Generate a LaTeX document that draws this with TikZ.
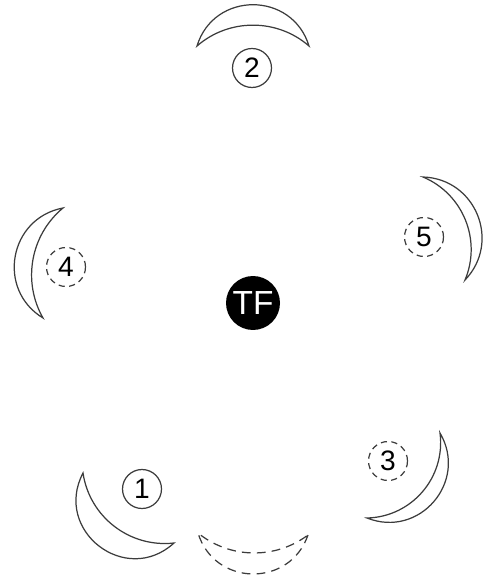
\documentclass[tikz,border=0pt]{standalone}
\usepackage{fontspec}
\setmainfont{Liberation Sans}
\definecolor{lunegray}{RGB}{60,60,60}

% crescent: style, tip A, tip B, outer bend, inner bend (degrees)
\newcommand{\lune}[5]{%
  \draw[#1] #2 to[outarc=#4] #3 to[inarc=#5] #2 -- cycle;}

\begin{document}
\begin{tikzpicture}[x=0.02cm, y=-0.02cm,
    % bends that follow a circular arc
    outarc/.code={\pgfmathsetmacro\lunelsn{(2/3)*tan(#1/2)/(sin(#1)*0.3915)}%
      \edef\lunenext{\noexpand\pgfkeysalso{bend left=#1, looseness=\lunelsn}}\lunenext},
    inarc/.code={\pgfmathsetmacro\lunelsn{(2/3)*tan(#1/2)/(sin(#1)*0.3915)}%
      \edef\lunenext{\noexpand\pgfkeysalso{bend right=#1, looseness=\lunelsn}}\lunenext},
    lune/.style={draw=lunegray, line width=0.7pt, fill=white, line join=miter},
    ghost/.style={lune, dash pattern=on 5pt off 3.5pt},
    num/.style={circle, draw=lunegray, line width=0.7pt, minimum size=0.78cm,
                inner sep=0pt, font=\fontsize{16}{16}\selectfont},
    numdash/.style={num, dash pattern=on 3.5pt off 2.5pt},
    core/.style={circle, fill=black, text=white, minimum size=1.08cm,
                 inner sep=0pt, font=\fontsize{19}{19}\selectfont},
  ]
  \useasboundingbox (0,0) rectangle (484,580);

  % crescents
  \lune{lune}{(197,46)}{(309,46)}{73}{41}
  \lune{lune}{(43,318)}{(63,208)}{69}{40}
  \lune{lune}{(423,177)}{(465,280)}{66}{45}
  \lune{lune}{(174,543)}{(83,473)}{80}{44}
  \lune{lune}{(440,433)}{(367,518)}{71}{48}
  \lune{ghost}{(308,535)}{(198,533)}{72}{38}

  % numbered positions
  \node[num]     (p1) at (142,489) {1};
  \node[num]     (p2) at (252,68)  {2};
  \node[numdash] (p3) at (388,461) {3};
  \node[numdash] (p4) at (66,267)  {4};
  \node[numdash] (p5) at (424,237) {5};
  \node[core]    (tf) at (253,303) {TF};
\end{tikzpicture}
\end{document}
